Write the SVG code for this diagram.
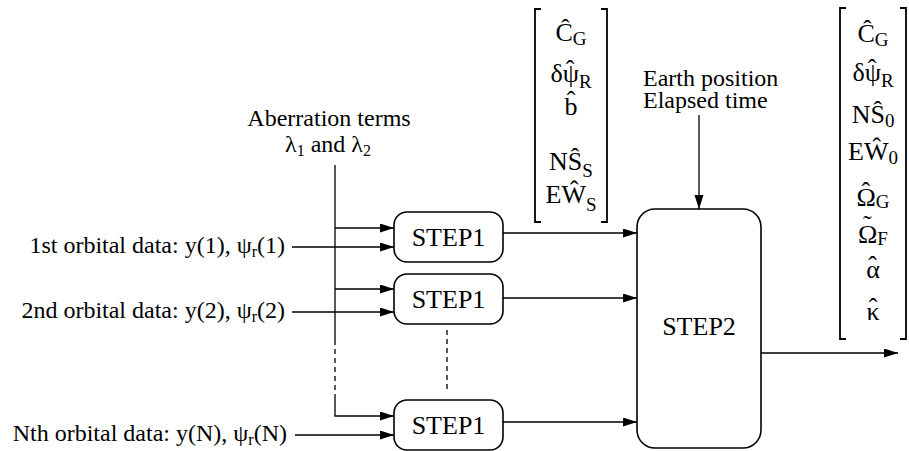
<svg xmlns="http://www.w3.org/2000/svg" width="909" height="451" viewBox="0 0 909 451">
<style>
text{font-family:"Liberation Serif","DejaVu Serif",serif;fill:#000}
.lbl{font-size:24px}
.step{font-size:26px;text-anchor:middle}
.m{font-size:26px;text-anchor:middle}
.sub{font-size:19px}
.ls{font-size:16px}
.box{fill:#fff;stroke:#000;stroke-width:1.6}
.ln{fill:none;stroke:#000;stroke-width:1.3}
.dash{fill:none;stroke:#000;stroke-width:1.3;stroke-dasharray:5 4}
.br{fill:none;stroke:#000;stroke-width:1.8}
</style>
<defs>
<marker id="ah" markerUnits="userSpaceOnUse" markerWidth="15" markerHeight="10" refX="14" refY="4.5" orient="auto">
<path d="M0,0 L14,4.5 L0,9 z" fill="#000"/>
</marker>
</defs>

<g id="connectors">
<path class="ln" d="M335,165 V340"/>
<path class="dash" d="M335,340 V398"/>
<path class="ln" d="M335,398 V416 H394" marker-end="url(#ah)"/>
<path class="ln" d="M335,228 H394" marker-end="url(#ah)"/>
<path class="ln" d="M335,289 H394" marker-end="url(#ah)"/>
<path class="ln" d="M292,247 H394" marker-end="url(#ah)"/>
<path class="ln" d="M292,312 H394" marker-end="url(#ah)"/>
<path class="ln" d="M295,435 H394" marker-end="url(#ah)"/>
<path class="ln" d="M503,233 H637" marker-end="url(#ah)"/>
<path class="ln" d="M503,298 H637" marker-end="url(#ah)"/>
<path class="ln" d="M503,422 H637" marker-end="url(#ah)"/>
<path class="ln" d="M699,115 V209" marker-end="url(#ah)"/>
<path class="ln" d="M761,353 H898" marker-end="url(#ah)"/>
<path class="dash" d="M447,330 V391"/>
</g>

<g id="input-labels">
<text class="lbl" x="285" y="253" text-anchor="end">1st orbital data: y(1), ψ<tspan class="ls" dy="4">r</tspan><tspan dy="-4">(1)</tspan></text>
<text class="lbl" x="285" y="318" text-anchor="end">2nd orbital data: y(2), ψ<tspan class="ls" dy="4">r</tspan><tspan dy="-4">(2)</tspan></text>
<text class="lbl" x="287" y="441" text-anchor="end">Nth orbital data: y(N), ψ<tspan class="ls" dy="4">r</tspan><tspan dy="-4">(N)</tspan></text>
</g>

<g id="aberration">
<text class="lbl" x="329" y="126" text-anchor="middle">Aberration terms</text>
<text class="lbl" x="328" y="152" text-anchor="middle">λ<tspan class="ls" dy="4">1</tspan><tspan dy="-4"> and λ</tspan><tspan class="ls" dy="4">2</tspan></text>
</g>

<g id="earth">
<text class="lbl" x="643" y="86">Earth position</text>
<text class="lbl" x="643" y="108">Elapsed time</text>
</g>

<g id="step1-1">
<rect class="box" x="394" y="212" width="109" height="50" rx="13"/>
<text class="step" x="448.5" y="246">STEP1</text>
</g>
<g id="step1-2">
<rect class="box" x="394" y="274" width="109" height="50" rx="13"/>
<text class="step" x="448.5" y="308">STEP1</text>
</g>
<g id="step1-n">
<rect class="box" x="394" y="400" width="109" height="50" rx="13"/>
<text class="step" x="448.5" y="434">STEP1</text>
</g>

<g id="step2">
<rect class="box" x="637" y="209" width="124" height="239" rx="18"/>
<text class="step" x="699" y="335">STEP2</text>
</g>

<g id="matrix-step1">
<path class="br" d="M541,9 H535 V222 H541"/>
<path class="br" d="M601,9 H607 V222 H601"/>
<text class="m" x="571" y="41">Ĉ<tspan class="sub" dy="4">G</tspan></text>
<text class="m" x="571" y="82">δψ<tspan dx="-13.2" dy="-4">ˆ</tspan><tspan class="sub" dx="4.5" dy="10">R</tspan></text>
<text class="m" x="571" y="115">b<tspan dx="-10.8" dy="-6">ˆ</tspan></text>
<text class="m" x="571" y="170">NŜ<tspan class="sub" dy="7">S</tspan></text>
<text class="m" x="571" y="203">EŴ<tspan class="sub" dy="8">S</tspan></text>
</g>

<g id="matrix-step2">
<path class="br" d="M846,8 H840 V339 H846"/>
<path class="br" d="M900,8 H906 V339 H900"/>
<text class="m" x="873" y="42">Ĉ<tspan class="sub" dy="4">G</tspan></text>
<text class="m" x="873" y="81">δψ<tspan dx="-13.2" dy="-4">ˆ</tspan><tspan class="sub" dx="4.5" dy="10">R</tspan></text>
<text class="m" x="873" y="123">NŜ<tspan class="sub" dy="4">0</tspan></text>
<text class="m" x="873" y="160">EŴ<tspan class="sub" dy="4">0</tspan></text>
<text class="m" x="873" y="206">Ω<tspan dx="-14.3" dy="-6">ˆ</tspan><tspan class="sub" dx="5.6" dy="8">G</tspan></text>
<text class="m" x="873" y="243">Ω<tspan dx="-14.3" dy="-10">˜</tspan><tspan class="sub" dx="5.6" dy="12">F</tspan></text>
<text class="m" x="873" y="278">α<tspan dx="-11.5" dy="-4">ˆ</tspan></text>
<text class="m" x="873" y="320">κ<tspan dx="-10.8" dy="-4">ˆ</tspan></text>
</g>
</svg>
